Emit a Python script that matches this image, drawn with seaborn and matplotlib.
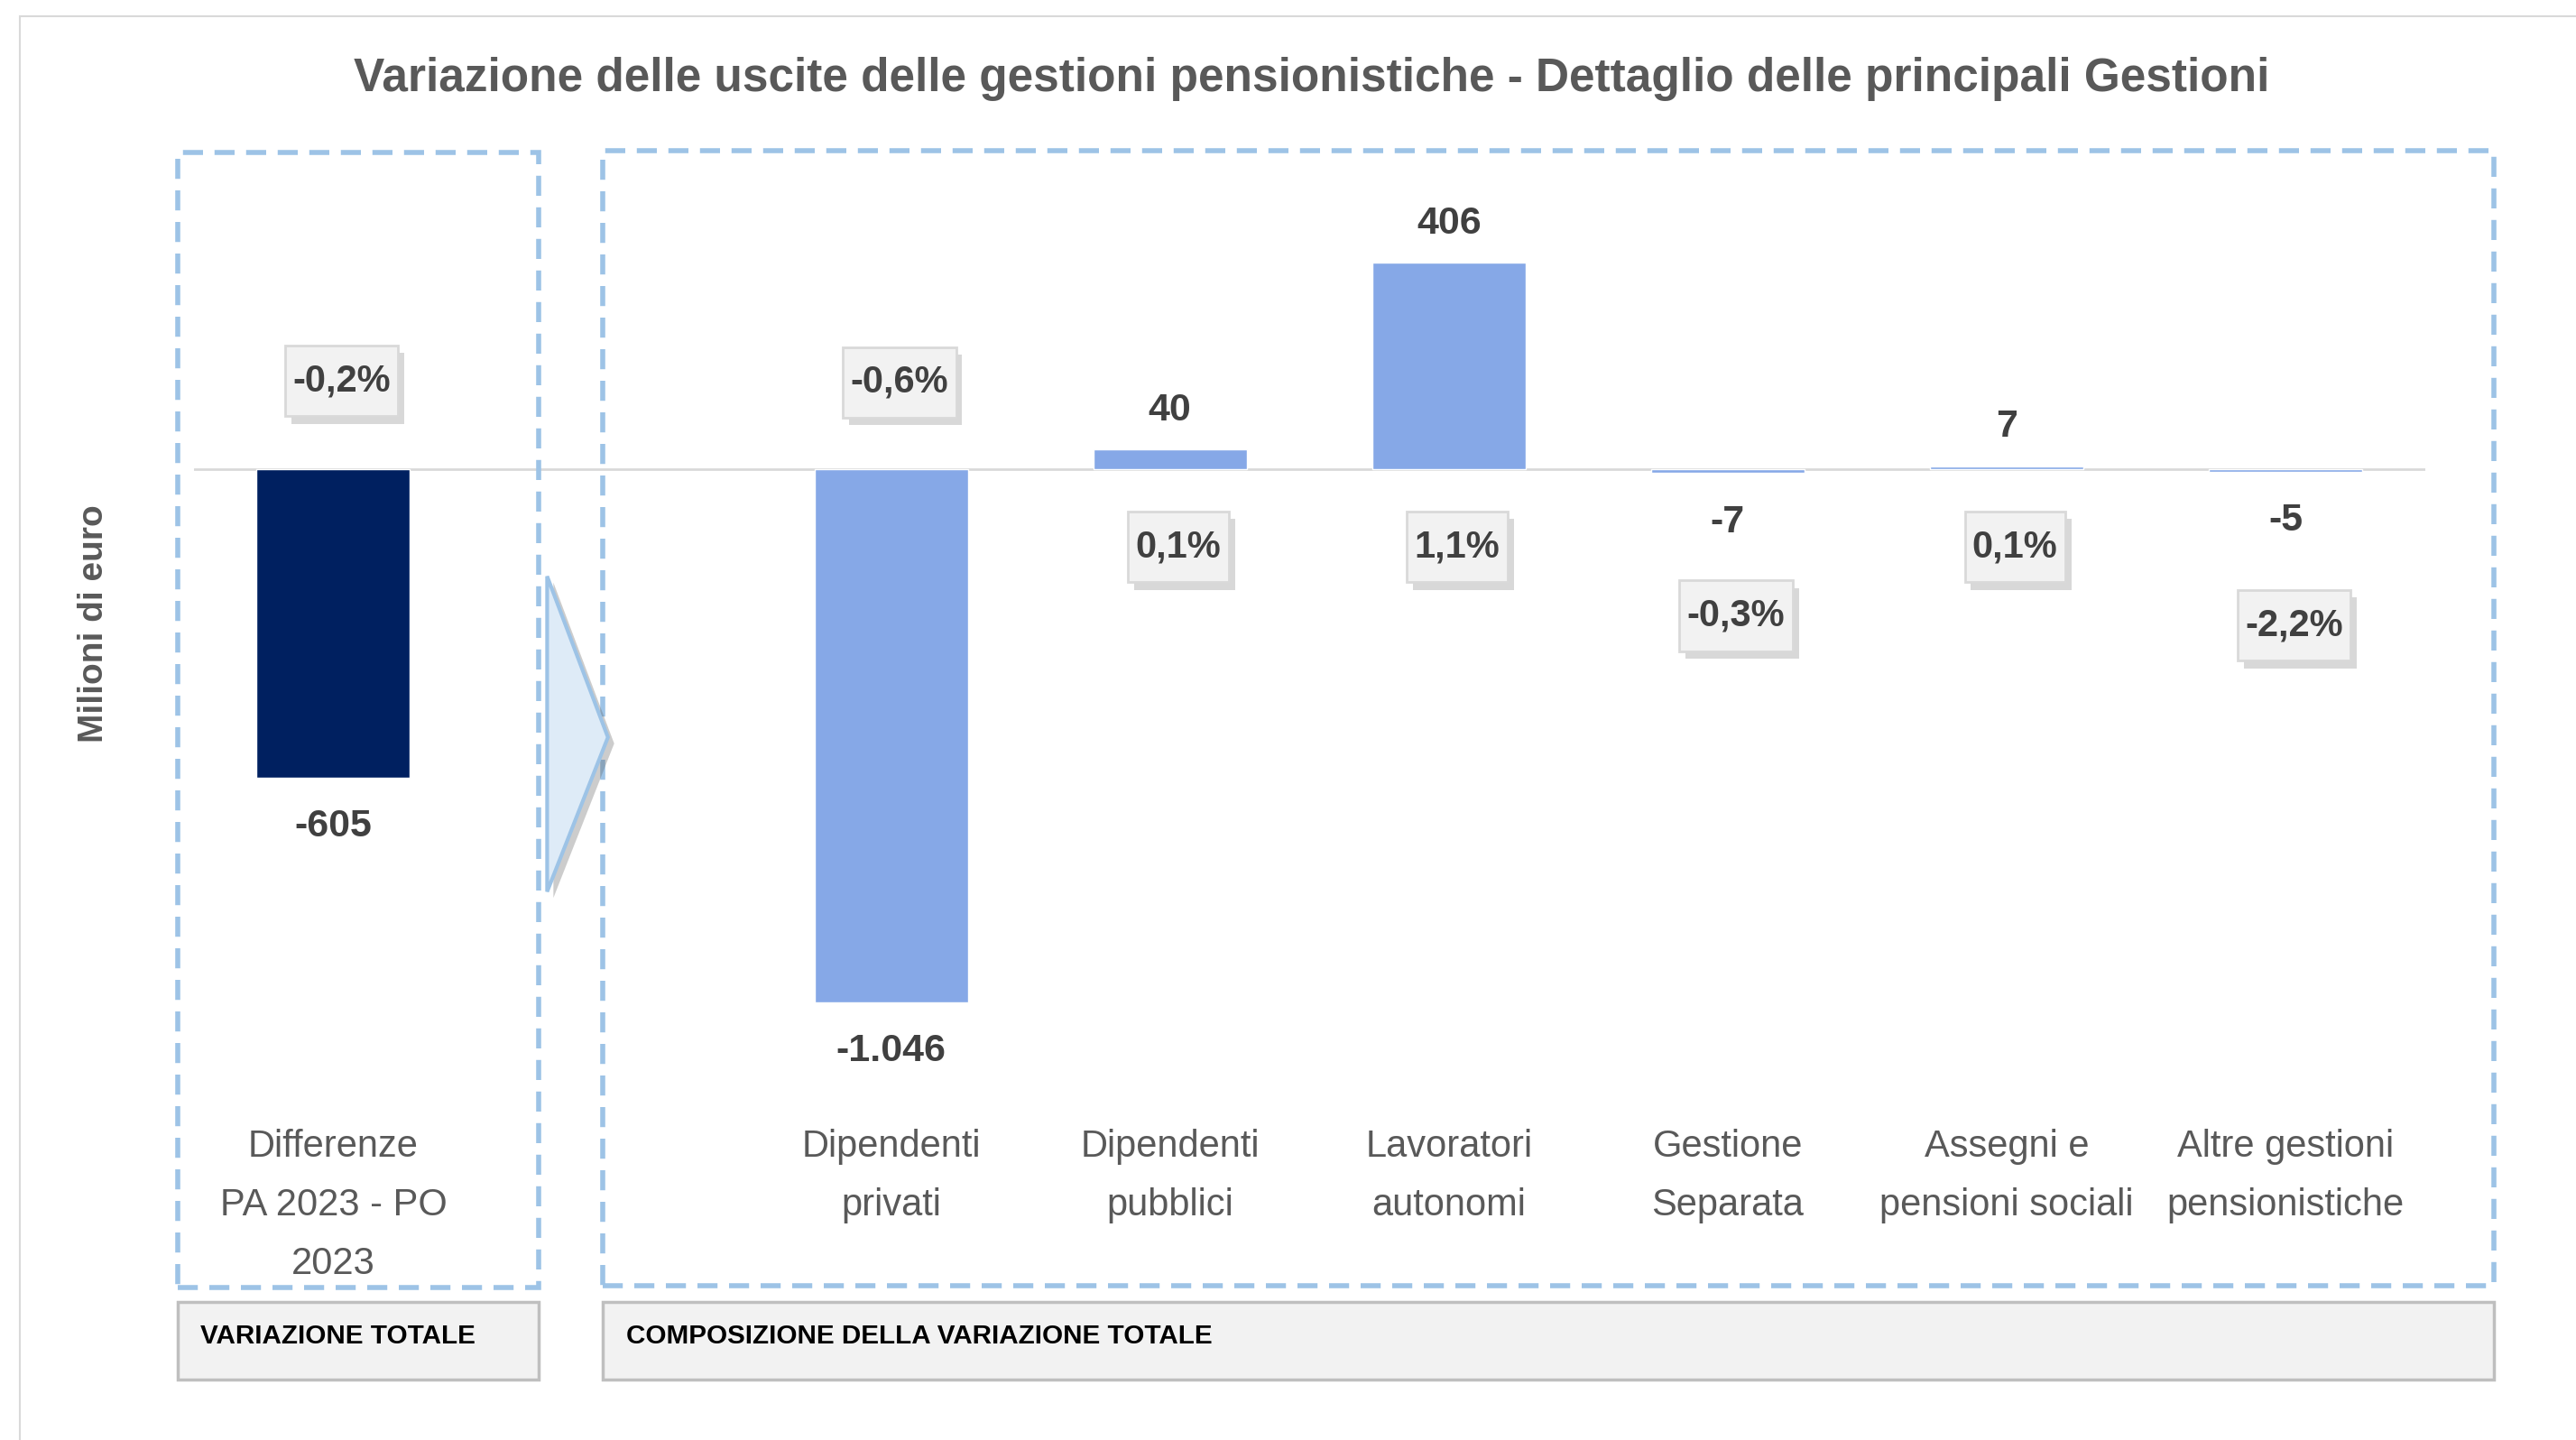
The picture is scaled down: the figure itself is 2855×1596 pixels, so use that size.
"""
Variazione delle uscite delle gestioni pensionistiche - dettaglio per gestione
"""

import pandas as pd
import matplotlib
matplotlib.use('Agg')
import matplotlib.pyplot as plt
import matplotlib.patheffects as pe
from matplotlib.path import Path
from matplotlib.patches import Rectangle, Polygon
import matplotlib.transforms as mtransforms
import seaborn as sns

# Dati (milioni di euro e variazione %)
categorie = [
    'Differenze\nPA 2023 - PO\n2023',
    'Dipendenti\nprivati',
    'Dipendenti\npubblici',
    'Lavoratori\nautonomi',
    'Gestione\nSeparata',
    'Assegni e\npensioni sociali',
    'Altre gestioni\npensionistiche',
]
variazioni = [-605, -1046, 40, 406, -7, 7, -5]
variazioni_pct = [-0.2, -0.6, 0.1, 1.1, -0.3, 0.1, -2.2]
gruppi = ['totale', 'gestione', 'gestione', 'gestione', 'gestione', 'gestione', 'gestione']

# Layout: posizioni delle barre e altezza delle etichette percentuali
posizioni = [0, 2, 3, 4, 5, 6, 7]
pct_label_y = [174, 171, -152, -152, -287, -152, -306]

sns.set_theme(style='white')
plt.rcParams['font.family'] = ['Liberation Sans', 'DejaVu Sans']

df = pd.DataFrame({'pos': posizioni, 'valore': variazioni, 'gruppo': gruppi})

fig = plt.figure(figsize=(28.55, 15.96), dpi=100)
ax = fig.add_axes([0.07526, 0.2246, 0.8661, 0.6614])

sns.barplot(
    data=df, x='pos', y='valore', hue='gruppo', native_scale=True,
    palette={'totale': '#002060', 'gestione': '#86A8E7'}, saturation=1,
    width=0.55, dodge=False, errorbar=None, legend=False, ax=ax, zorder=2
)
ax.axhline(0, color='#D9D9D9', lw=2, zorder=1)

ax.set_xlim(-0.5, 7.5)
ax.set_ylim(-1271, 600)
ax.set_xticks([])
ax.set_yticks([])
ax.set_xlabel('')
ax.set_ylabel('')
sns.despine(ax=ax, left=True, bottom=True)
ax.patch.set_alpha(0)

# Etichette dei valori
for x, v in zip(posizioni, variazioni):
    testo = f'{v:,}'.replace(',', '.')
    off = 31 if v >= 0 else -39
    ax.annotate(testo, (x, v), xytext=(0, off), textcoords='offset points',
                ha='center', va='center', fontsize=31, fontweight='bold',
                color='#404040')


# Box delle percentuali: margine orizzontale piccolo, verticale più ampio
def box_pct(x0, y0, width, height, mutation_size):
    px, py = 0.2 * mutation_size, 0.46 * mutation_size
    x0, y0 = x0 - px, y0 - py
    x1, y1 = x0 + width + 2 * px, y0 + height + 2 * py
    return Path([(x0, y0), (x1, y0), (x1, y1), (x0, y1), (x0, y0)], closed=True)


for x, p, y in zip(posizioni, variazioni_pct, pct_label_y):
    testo = f'{p:.1f}%'.replace('.', ',')
    t = ax.text(x + 0.03, y, testo, ha='center', va='center',
                fontsize=30, fontweight='bold', color='#404040',
                bbox=dict(boxstyle=box_pct, fc='#F2F2F2', ec='#D9D9D9', lw=2),
                zorder=5)
    t.get_bbox_patch().set_path_effects([
        pe.SimplePatchShadow(offset=(5, -6), shadow_rgbFace='#7F7F7F', alpha=0.3),
        pe.Normal(),
    ])

# Etichette delle categorie
trans = mtransforms.blended_transform_factory(ax.transData, fig.transFigure)
for x, c in zip(posizioni, categorie):
    ax.text(x, 0.2161, c, transform=trans, ha='center', va='top',
            fontsize=30, color='#595959', linespacing=1.8)

# Titolo e asse y
fig.text(0.509, 0.945,
         'Variazione delle uscite delle gestioni pensionistiche - Dettaglio delle principali Gestioni',
         ha='center', va='center', fontsize=37, fontweight='bold', color='#595959')
fig.text(0.0364, 0.5667, 'Milioni di euro', rotation=90, ha='center', va='center',
         fontsize=28, fontweight='bold', color='#595959')

# Cornice esterna (solo lati alto e sinistro visibili)
fig.add_artist(Rectangle((0.00765, -0.1), 1.2, 1.0886, transform=fig.transFigure,
                         fill=False, ec='#D9D9D9', lw=1.5))

# Riquadri tratteggiati
for x0, x1, y0, y1 in [(0.0689, 0.2092, 0.106, 0.894), (0.2341, 0.9681, 0.1072, 0.8951)]:
    fig.add_artist(Rectangle((x0, y0), x1 - x0, y1 - y0, transform=fig.transFigure,
                             fill=False, ec='#9DC3E6', lw=4, ls=(0, (4, 2.3)), zorder=3))

# Freccia
freccia = Polygon([(0.2124, 0.5998), (0.2360, 0.4880), (0.2124, 0.3808)], closed=True,
                  transform=fig.transFigure, fc='#DEEBF7', ec='#9DC3E6', lw=3, zorder=6)
freccia.set_path_effects([
    pe.SimplePatchShadow(offset=(5, -5), shadow_rgbFace='#595959', alpha=0.3),
    pe.Normal(),
])
fig.add_artist(freccia)

# Riquadri in basso
for x0, x1, testo in [(0.0689, 0.2092, 'VARIAZIONE TOTALE'),
                      (0.2341, 0.9681, 'COMPOSIZIONE DELLA VARIAZIONE TOTALE')]:
    fig.add_artist(Rectangle((x0, 0.0422), x1 - x0, 0.0536, transform=fig.transFigure,
                             fc='#F2F2F2', ec='#BFBFBF', lw=2.5, zorder=3))
    fig.text(x0 + 0.0089, 0.072, testo, ha='left', va='center', fontsize=21.3,
             fontweight='bold', color='black', zorder=4)

plt.savefig('out.png', dpi=100, facecolor='white')
